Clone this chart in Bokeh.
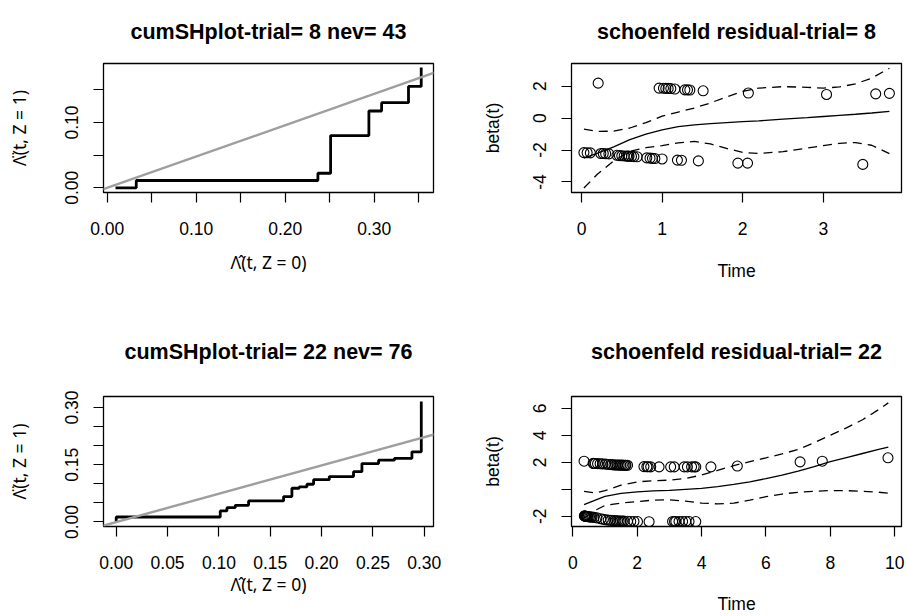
from bokeh.plotting import figure
from bokeh.layouts import column, row
from bokeh.models import Range1d, FixedTicker, Slope
from bokeh.embed import file_html
from bokeh.resources import INLINE

FONT = "Liberation Sans"
MATH_FONT = "Noto Sans"

# ---------------- data: panel 1 (cumSH plot, trial 8) ----------------
cum8_x = [0.0093, 0.0326, 0.2367, 0.251, 0.294, 0.3083, 0.3385, 0.3528]
cum8_y = [0.0, 0.0112, 0.0223, 0.080, 0.1177, 0.1304, 0.1554, 0.1844]
ref8_slope = 0.48

# ---------------- data: panel 3 (cumSH plot, trial 22) ----------------
cum22_x = [0.0, 0.0, 0.1013, 0.1078, 0.1159, 0.1289, 0.163, 0.1711, 0.1782, 0.1857,
           0.1922, 0.2075, 0.2311, 0.2393, 0.2555, 0.271, 0.288, 0.2971]
cum22_y = [0.0, 0.0131, 0.0289, 0.0376, 0.0437, 0.0551, 0.0665, 0.0884, 0.0919, 0.0989,
           0.111, 0.119, 0.132, 0.153, 0.162, 0.167, 0.184, 0.316]
ref22_slope = 0.74

# ---------------- data: panel 2 (schoenfeld residuals, trial 8) ----------------
res8_time = [0.207, 0.963, 1.017, 1.046, 1.075, 1.108, 1.158, 1.282, 1.315, 1.344,
             1.509, 2.07, 3.04, 3.65, 3.82,
             0.03, 0.07, 0.11, 0.24, 0.27, 0.30, 0.34,
             0.44, 0.47, 0.50, 0.53, 0.56, 0.58, 0.59, 0.62, 0.65, 0.69,
             0.81, 0.85, 0.88, 0.91, 1.00, 1.19, 1.24, 1.45, 1.94, 2.06, 3.49]
res8_beta = [2.19, 1.88, 1.87, 1.86, 1.86, 1.85, 1.82, 1.77, 1.77, 1.76,
             1.71, 1.57, 1.48, 1.52, 1.55,
             -2.16, -2.17, -2.18, -2.22, -2.22, -2.23, -2.24,
             -2.33, -2.35, -2.36, -2.37, -2.38, -2.38, -2.39, -2.40, -2.41, -2.42,
             -2.49, -2.51, -2.52, -2.53, -2.56, -2.63, -2.64, -2.68, -2.82, -2.82, -2.90]
fit8_time = [0.03, 0.2, 0.4, 0.6, 0.8, 1.0, 1.2, 1.4, 1.6, 1.8, 2.0, 2.2, 2.5, 2.8,
             3.0, 3.2, 3.4, 3.6, 3.82]
fit8_mid = [-2.51, -2.2, -1.8, -1.35, -1.0, -0.74, -0.54, -0.42, -0.34, -0.28, -0.22,
            -0.17, -0.07, 0.03, 0.10, 0.17, 0.24, 0.32, 0.42]
fit8_up = [-0.69, -0.83, -0.82, -0.62, -0.28, 0.12, 0.38, 0.63, 0.95, 1.33, 1.68,
           1.88, 1.97, 1.93, 1.88, 1.95, 2.15, 2.5, 3.12]
fit8_lo = [-4.38, -3.5, -2.68, -2.08, -1.85, -1.73, -1.55, -1.46, -1.62, -1.90, -2.15,
           -2.22, -2.10, -1.88, -1.73, -1.58, -1.53, -1.70, -2.22]

# ---------------- data: panel 4 (schoenfeld residuals, trial 22) ----------------
res22_time = [0.35, 0.63, 0.66, 0.70, 0.77, 0.85, 0.92, 1.02, 1.10, 1.18, 1.22, 1.28,
              1.34, 1.39, 1.44, 1.49, 1.54, 1.59, 1.63, 1.65, 1.70,
              2.21, 2.30, 2.34, 2.42, 2.68, 3.04, 3.15, 3.46, 3.56, 3.69, 3.77, 3.82,
              4.29, 5.11, 7.06, 7.75, 9.79,
              0.36, 0.37, 0.38, 0.40, 0.42, 0.44, 0.45, 0.48, 0.52, 0.56, 0.60,
              0.66, 0.75, 0.87, 0.95, 1.02, 1.10, 1.18, 1.28, 1.34, 1.39, 1.44, 1.49,
              1.54, 1.59, 1.70, 1.80, 1.90, 2.01, 2.37,
              3.10, 3.16, 3.20, 3.30, 3.41, 3.51, 3.61, 3.82]
res22_beta = [2.08, 1.92, 1.91, 1.91, 1.90, 1.89, 1.88, 1.86, 1.84, 1.83, 1.82, 1.81,
              1.80, 1.80, 1.79, 1.79, 1.79, 1.78, 1.78, 1.78, 1.78,
              1.68, 1.67, 1.67, 1.66, 1.66, 1.66, 1.66, 1.66, 1.66, 1.66, 1.66, 1.66,
              1.66, 1.72, 2.03, 2.08, 2.33,
              -1.97, -1.98, -1.99, -2.00, -2.01, -2.01, -2.02, -2.03, -2.04, -2.05, -2.06,
              -2.08, -2.12, -2.18, -2.22, -2.26, -2.28, -2.30, -2.32, -2.33, -2.34, -2.35,
              -2.35, -2.36, -2.36, -2.37, -2.38, -2.38, -2.39, -2.40,
              -2.38, -2.38, -2.38, -2.38, -2.38, -2.38, -2.38, -2.39]
fit22_time = [0.35, 0.7, 1.0, 1.5, 2.0, 2.5, 3.0, 3.5, 4.0, 4.5, 5.0, 5.5, 6.0, 6.5,
              7.0, 7.5, 8.0, 8.5, 9.0, 9.5, 9.8]
fit22_mid = [-1.14, -0.80, -0.52, -0.30, -0.19, -0.12, -0.08, 0.0, 0.07, 0.2, 0.36,
             0.55, 0.79, 1.05, 1.35, 1.68, 2.05, 2.35, 2.65, 2.95, 3.13]
fit22_up = [-0.15, -0.27, -0.10, 0.30, 0.55, 0.63, 0.68, 0.80, 1.05, 1.40, 1.75, 2.05,
            2.33, 2.62, 2.95, 3.45, 4.0, 4.55, 5.15, 5.9, 6.4]
fit22_lo = [-2.15, -1.55, -1.2, -1.02, -0.92, -0.80, -0.78, -0.88, -1.02, -1.08, -1.03,
            -0.80, -0.55, -0.35, -0.22, -0.14, -0.10, -0.10, -0.15, -0.22, -0.28]

# ---------------- titles / labels / ticks ----------------
titles = ["cumSHplot-trial= 8 nev= 43", "schoenfeld residual-trial= 8",
          "cumSHplot-trial= 22 nev= 76", "schoenfeld residual-trial= 22"]
xlab_cum = "\u039b\u0302(t, Z = 0)"
ylab_cum = "\u039b\u0308(t, Z = 1)"
xlab_res = "Time"
ylab_res = "beta(t)"

p1_xticks = [0.0, 0.05, 0.1, 0.15, 0.2, 0.25, 0.3, 0.35]
p1_xlabels = ["0.00", "", "0.10", "", "0.20", "", "0.30", ""]
p1_yticks = [0.0, 0.05, 0.1, 0.15]
p1_ylabels = ["0.00", "", "0.10", ""]
p2_xticks = [0, 1, 2, 3]
p2_xlabels = ["0", "1", "2", "3"]
p2_yticks = [-4, -2, 0, 2]
p2_ylabels = ["-4", "-2", "0", "2"]
p3_xticks = [0.0, 0.05, 0.1, 0.15, 0.2, 0.25, 0.3]
p3_xlabels = ["0.00", "0.05", "0.10", "0.15", "0.20", "0.25", "0.30"]
p3_yticks = [0.0, 0.05, 0.1, 0.15, 0.2, 0.25, 0.3]
p3_ylabels = ["0.00", "", "", "0.15", "", "", "0.30"]
p4_xticks = [0, 2, 4, 6, 8, 10]
p4_xlabels = ["0", "2", "4", "6", "8", "10"]
p4_yticks = [-2, 0, 2, 4, 6]
p4_ylabels = ["-2", "", "2", "4", "6"]


def make_fig(title, xr, yr, left, right, top, bottom, w, h, title_standoff):
    p = figure(width=w, height=h, x_range=Range1d(*xr), y_range=Range1d(*yr),
               output_backend="svg", toolbar_location=None, tools="",
               min_border_left=left, min_border_right=right,
               min_border_top=top, min_border_bottom=bottom)
    p.title.text = title
    p.title.text_font = FONT
    p.title.text_font_size = "21.5px"
    p.title.text_font_style = "bold"
    p.title.text_color = "black"
    p.title.align = "center"
    p.title.vertical_align = "top"
    p.title.standoff = title_standoff
    p.xgrid.visible = False
    p.ygrid.visible = False
    p.outline_line_color = "black"
    p.outline_line_width = 1.3
    p.background_fill_color = "white"
    p.border_fill_color = "white"
    for ax in (p.xaxis[0], p.yaxis[0]):
        ax.axis_line_color = None
        ax.major_tick_line_color = "black"
        ax.major_tick_line_width = 1.2
        ax.major_tick_out = 10
        ax.major_tick_in = 0
        ax.minor_tick_line_color = None
        ax.major_label_text_font = FONT
        ax.major_label_text_font_size = "17.5px"
        ax.major_label_text_color = "black"
        ax.axis_label_text_font = FONT
        ax.axis_label_text_font_size = "17.5px"
        ax.axis_label_text_font_style = "normal"
        ax.axis_label_text_color = "black"
    p.xaxis[0].major_label_standoff = 19
    p.yaxis[0].major_label_standoff = 15
    p.yaxis[0].major_label_orientation = "vertical"
    return p


def set_ticks(p, xt, xl, yt, yl):
    p.xaxis[0].ticker = FixedTicker(ticks=xt)
    p.xaxis[0].major_label_overrides = {t: s for t, s in zip(xt, xl)}
    p.yaxis[0].ticker = FixedTicker(ticks=yt)
    p.yaxis[0].major_label_overrides = {t: s for t, s in zip(yt, yl)}


# panel 1
p1 = make_fig(titles[0], (-0.0042, 0.3666), (-0.0072, 0.1905), 103, 20, 63, 116, 453, 308, 36)
set_ticks(p1, p1_xticks, p1_xlabels, p1_yticks, p1_ylabels)
p1.xaxis[0].axis_label = xlab_cum
p1.yaxis[0].axis_label = ylab_cum
p1.xaxis[0].axis_label_text_font = MATH_FONT
p1.yaxis[0].axis_label_text_font = MATH_FONT
p1.xaxis[0].axis_label_standoff = 12
p1.yaxis[0].axis_label_standoff = 32
p1.add_layout(Slope(gradient=ref8_slope, y_intercept=0, line_color="#9e9e9e", line_width=2.4))
p1.step(cum8_x, cum8_y, mode="after", line_color="black", line_width=2.8)

# panel 2
p2 = make_fig(titles[1], (-0.124, 3.970), (-4.66, 3.42), 118, 6, 63, 116, 454, 308, 36)
set_ticks(p2, p2_xticks, p2_xlabels, p2_yticks, p2_ylabels)
p2.xaxis[0].axis_label = xlab_res
p2.yaxis[0].axis_label = ylab_res
p2.xaxis[0].axis_label_standoff = 23
p2.yaxis[0].axis_label_standoff = 28
p2.scatter(res8_time, res8_beta, marker="circle", size=10, fill_color=None,
           line_color="black", line_width=1.1)
p2.line(fit8_time, fit8_mid, line_color="black", line_width=1.3)
p2.line(fit8_time, fit8_up, line_color="black", line_width=1.3, line_dash="9 6")
p2.line(fit8_time, fit8_lo, line_color="black", line_width=1.3, line_dash="9 6")

# panel 3
p3 = make_fig(titles[2], (-0.0124, 0.309), (-0.0118, 0.3289), 103, 20, 88, 90, 453, 308, 61)
set_ticks(p3, p3_xticks, p3_xlabels, p3_yticks, p3_ylabels)
p3.xaxis[0].axis_label = xlab_cum
p3.yaxis[0].axis_label = ylab_cum
p3.xaxis[0].axis_label_text_font = MATH_FONT
p3.yaxis[0].axis_label_text_font = MATH_FONT
p3.xaxis[0].axis_label_standoff = 0
p3.yaxis[0].axis_label_standoff = 32
p3.add_layout(Slope(gradient=ref22_slope, y_intercept=0, line_color="#9e9e9e", line_width=2.4))
p3.step(cum22_x, cum22_y, mode="after", line_color="black", line_width=2.8)

# panel 4
p4 = make_fig(titles[3], (-0.04, 10.21), (-2.755, 6.87), 118, 6, 88, 90, 454, 308, 61)
set_ticks(p4, p4_xticks, p4_xlabels, p4_yticks, p4_ylabels)
p4.xaxis[0].axis_label = xlab_res
p4.yaxis[0].axis_label = ylab_res
p4.xaxis[0].axis_label_standoff = 22
p4.yaxis[0].axis_label_standoff = 28
p4.scatter(res22_time, res22_beta, marker="circle", size=10, fill_color=None,
           line_color="black", line_width=1.1)
p4.line(fit22_time, fit22_mid, line_color="black", line_width=1.3)
p4.line(fit22_time, fit22_up, line_color="black", line_width=1.3, line_dash="9 6")
p4.line(fit22_time, fit22_lo, line_color="black", line_width=1.3, line_dash="9 6")

layout = column(row(p1, p2), row(p3, p4))
open("out.html", "w").write(file_html(layout, INLINE))
